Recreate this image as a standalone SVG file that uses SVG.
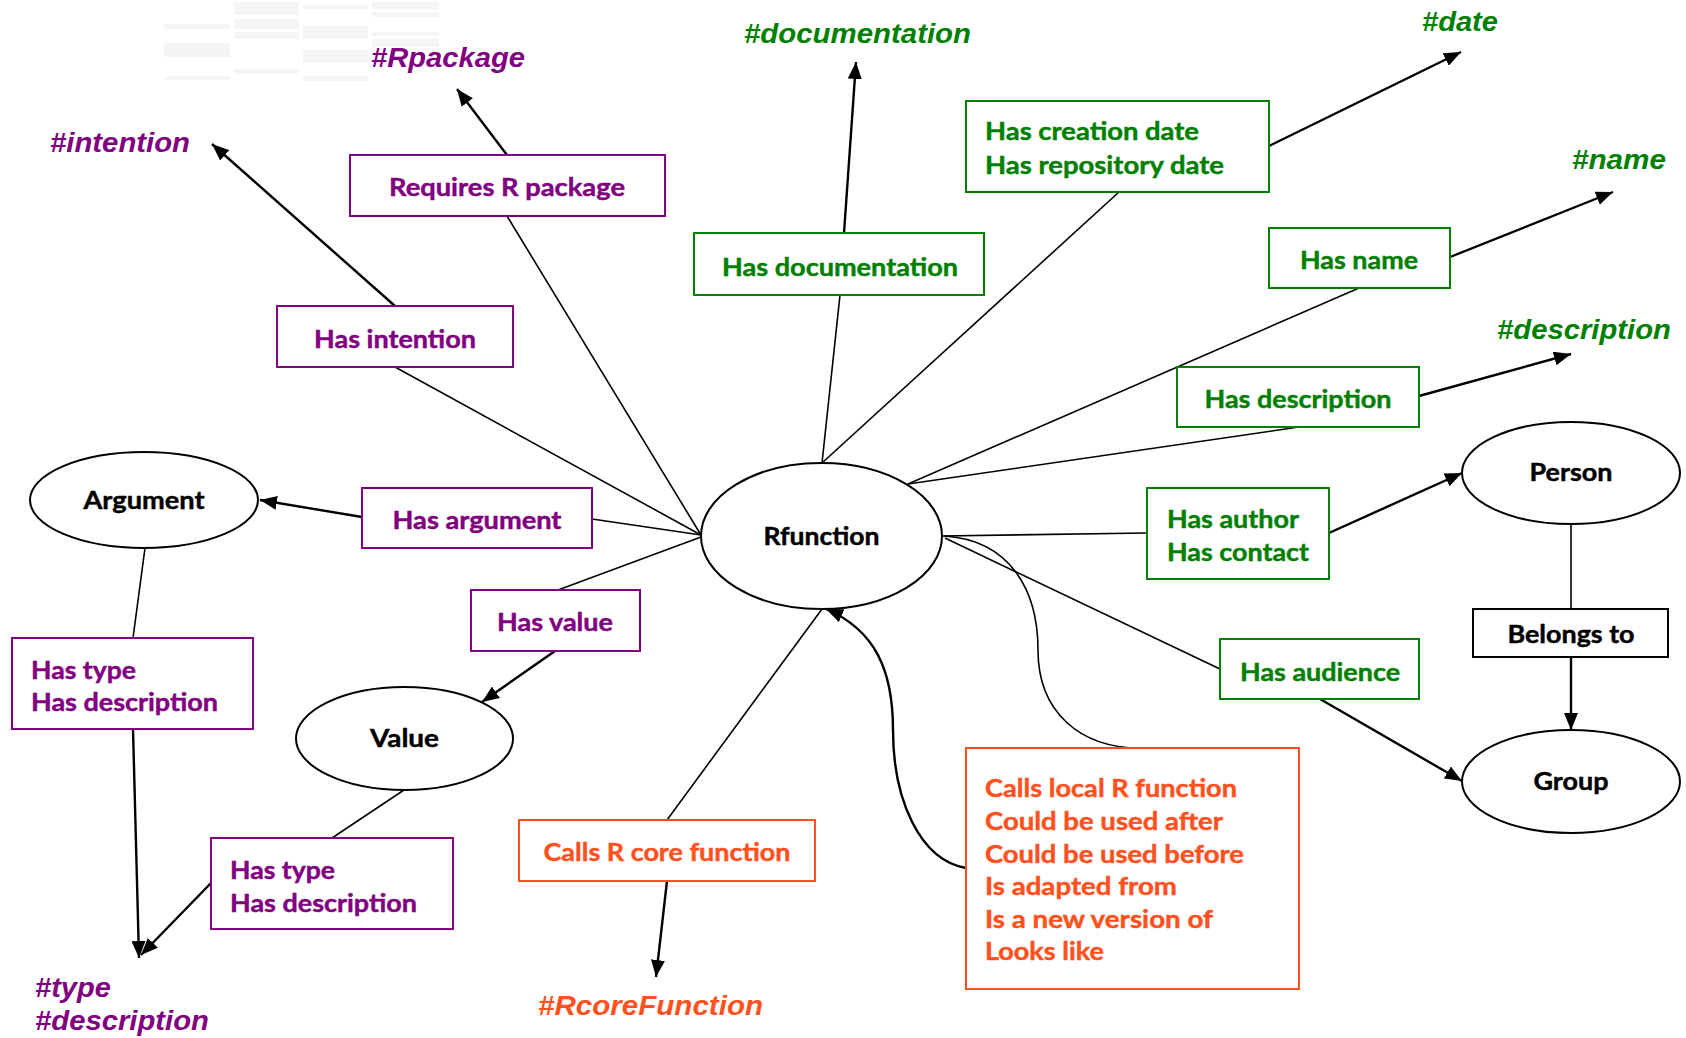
<svg xmlns="http://www.w3.org/2000/svg" width="1686" height="1038" viewBox="0 0 1686 1038">
  <style>
    .lbl { font-family: Lato, "Open Sans", "Liberation Sans", sans-serif; font-weight: bold; font-size: 25px; stroke-width: 0.45; }
    .mid { text-anchor: middle; }
    .tag { font-family: "Liberation Sans", Arial, sans-serif; font-weight: bold; font-style: italic; font-size: 28px; }
    .purple { fill: #800080; }
    .green { fill: #008000; }
    .orange { fill: #ff5020; }
    .black { fill: #000; }
    .lbl.purple { stroke: #800080; }
    .lbl.green { stroke: #008000; }
    .lbl.orange { stroke: #ff5020; }
    .lbl.black { stroke: #000; }
    .box-p { fill: #fff; stroke: #800080; stroke-width: 2; }
    .box-g { fill: #fff; stroke: #008000; stroke-width: 2; }
    .box-o { fill: #fff; stroke: #ff5020; stroke-width: 2; }
    .box-k { fill: #fff; stroke: #000; stroke-width: 2; }
    .ell { fill: #fff; stroke: #000; stroke-width: 2; }
    .edge { fill: none; stroke: #000; stroke-width: 1.6; }
    .arrow { fill: none; stroke: #000; stroke-width: 2.4; marker-end: url(#ah); }
    .ghost { fill: #f5f5f5; }
  </style>
  <defs>
    <marker id="ah" markerUnits="userSpaceOnUse" markerWidth="18" markerHeight="14" refX="17" refY="7" orient="auto">
      <path d="M0,0 L17,7 L0,14 z" fill="#000"/>
    </marker>
  </defs>

  <rect width="1686" height="1038" fill="#fff"/>

  <!-- faint table remnant, top left -->
  <g id="ghost">
    <rect class="ghost" x="164" y="24" width="66" height="5"/>
    <rect class="ghost" x="164" y="43" width="66" height="14"/>
    <rect class="ghost" x="164" y="76" width="66" height="4"/>
    <rect class="ghost" x="234" y="2" width="65" height="13"/>
    <rect class="ghost" x="234" y="19" width="65" height="10"/>
    <rect class="ghost" x="234" y="32" width="65" height="7"/>
    <rect class="ghost" x="234" y="69" width="65" height="5"/>
    <rect class="ghost" x="303" y="5" width="65" height="4"/>
    <rect class="ghost" x="303" y="26" width="65" height="13"/>
    <rect class="ghost" x="303" y="50" width="65" height="13"/>
    <rect class="ghost" x="303" y="76" width="65" height="5"/>
    <rect class="ghost" x="372" y="2" width="67" height="7"/>
    <rect class="ghost" x="372" y="12" width="67" height="5"/>
    <rect class="ghost" x="372" y="32" width="67" height="4"/>
    <rect class="ghost" x="372" y="39" width="67" height="8"/>
  </g>

  <!-- connectors -->
  <g id="connectors">
    <path class="edge" d="M701,535 L395,367"/>
    <path class="edge" d="M701,535 L507,216"/>
    <path class="edge" d="M592,519 L701,535"/>
    <path class="edge" d="M701,537 L558,590"/>
    <path class="edge" d="M145,548 L133,638"/>
    <path class="edge" d="M404,790 L332,838"/>
    <path class="edge" d="M822,463 L840,295"/>
    <path class="edge" d="M822,463 L1119,192"/>
    <path class="edge" d="M908,484 L1359,288"/>
    <path class="edge" d="M908,484 L1299,427"/>
    <path class="edge" d="M942,536 L1147,533"/>
    <path class="edge" d="M1571,524 L1571,609"/>
    <path class="edge" d="M945,538 L1220,669"/>
    <path class="edge" d="M822,609 L667,820"/>
    <path class="edge" d="M944,536 C1010,540 1038,590 1038,650 C1038,712 1080,748 1140,748"/>

    <path class="arrow" d="M395,306 L212,144"/>
    <path class="arrow" d="M507,155 L457,89"/>
    <path class="arrow" d="M844,233 L856,62"/>
    <path class="arrow" d="M1269,146 L1461,52"/>
    <path class="arrow" d="M1450,257 L1613,192"/>
    <path class="arrow" d="M1419,396 L1571,354"/>
    <path class="arrow" d="M1329,533 L1462,473"/>
    <path class="arrow" d="M1571,657 L1571,730"/>
    <path class="arrow" d="M1320,699 L1462,781"/>
    <path class="arrow" d="M667,881 L656,977"/>
    <path class="arrow" d="M362,517 L260,500"/>
    <path class="arrow" d="M555,651 L482,702"/>
    <path class="arrow" d="M133,729 L139,958"/>
    <path class="arrow" d="M211,883 L141,955"/>
    <path class="arrow" d="M966,868 C920,860 893,800 893,730 C893,670 875,630 826,609"/>
  </g>

  <!-- class nodes -->
  <g id="rfunction">
    <ellipse class="ell" cx="821.5" cy="536" rx="120.5" ry="73"/>
    <text class="lbl black mid" x="821.5" y="545" textLength="116" lengthAdjust="spacingAndGlyphs">Rfunction</text>
  </g>
  <g id="argument">
    <ellipse class="ell" cx="144" cy="500" rx="114" ry="48"/>
    <text class="lbl black mid" x="144" y="509" textLength="121" lengthAdjust="spacingAndGlyphs">Argument</text>
  </g>
  <g id="value">
    <ellipse class="ell" cx="404.5" cy="738.5" rx="108.5" ry="51.5"/>
    <text class="lbl black mid" x="404.5" y="747" textLength="69" lengthAdjust="spacingAndGlyphs">Value</text>
  </g>
  <g id="person">
    <ellipse class="ell" cx="1571" cy="473" rx="109" ry="51"/>
    <text class="lbl black mid" x="1571" y="481" textLength="83" lengthAdjust="spacingAndGlyphs">Person</text>
  </g>
  <g id="group">
    <ellipse class="ell" cx="1571" cy="781.5" rx="109" ry="51.5"/>
    <text class="lbl black mid" x="1571" y="790" textLength="75" lengthAdjust="spacingAndGlyphs">Group</text>
  </g>

  <!-- relation boxes -->
  <g id="requires-r-package">
    <rect class="box-p" x="350" y="155" width="315" height="61"/>
    <text class="lbl purple mid" x="507" y="196" textLength="236" lengthAdjust="spacingAndGlyphs">Requires R package</text>
  </g>
  <g id="has-intention">
    <rect class="box-p" x="277" y="306" width="236" height="61"/>
    <text class="lbl purple mid" x="395" y="348" textLength="162" lengthAdjust="spacingAndGlyphs">Has intention</text>
  </g>
  <g id="has-argument">
    <rect class="box-p" x="362" y="488" width="230" height="60"/>
    <text class="lbl purple mid" x="477" y="529" textLength="169" lengthAdjust="spacingAndGlyphs">Has argument</text>
  </g>
  <g id="has-value">
    <rect class="box-p" x="471" y="590" width="169" height="61"/>
    <text class="lbl purple mid" x="555" y="631" textLength="116" lengthAdjust="spacingAndGlyphs">Has value</text>
  </g>
  <g id="argument-type">
    <rect class="box-p" x="12" y="638" width="241" height="91"/>
    <text class="lbl purple" x="31" y="679" textLength="105" lengthAdjust="spacingAndGlyphs">Has type</text>
    <text class="lbl purple" x="31" y="711" textLength="187" lengthAdjust="spacingAndGlyphs">Has description</text>
  </g>
  <g id="value-type">
    <rect class="box-p" x="211" y="838" width="242" height="91"/>
    <text class="lbl purple" x="230" y="879" textLength="105" lengthAdjust="spacingAndGlyphs">Has type</text>
    <text class="lbl purple" x="230" y="912" textLength="187" lengthAdjust="spacingAndGlyphs">Has description</text>
  </g>
  <g id="has-documentation">
    <rect class="box-g" x="694" y="233" width="290" height="62"/>
    <text class="lbl green mid" x="840" y="276" textLength="236" lengthAdjust="spacingAndGlyphs">Has documentation</text>
  </g>
  <g id="has-dates">
    <rect class="box-g" x="966" y="101" width="303" height="91"/>
    <text class="lbl green" x="985" y="140" textLength="214" lengthAdjust="spacingAndGlyphs">Has creation date</text>
    <text class="lbl green" x="985" y="174" textLength="239" lengthAdjust="spacingAndGlyphs">Has repository date</text>
  </g>
  <g id="has-name">
    <rect class="box-g" x="1269" y="228" width="181" height="60"/>
    <text class="lbl green mid" x="1359" y="269" textLength="118" lengthAdjust="spacingAndGlyphs">Has name</text>
  </g>
  <g id="has-description">
    <rect class="box-g" x="1177" y="367" width="242" height="60"/>
    <text class="lbl green mid" x="1298" y="408" textLength="187" lengthAdjust="spacingAndGlyphs">Has description</text>
  </g>
  <g id="has-author">
    <rect class="box-g" x="1147" y="488" width="182" height="91"/>
    <text class="lbl green" x="1167" y="528" textLength="132" lengthAdjust="spacingAndGlyphs">Has author</text>
    <text class="lbl green" x="1167" y="561" textLength="142" lengthAdjust="spacingAndGlyphs">Has contact</text>
  </g>
  <g id="has-audience">
    <rect class="box-g" x="1220" y="639" width="199" height="60"/>
    <text class="lbl green mid" x="1320" y="681" textLength="160" lengthAdjust="spacingAndGlyphs">Has audience</text>
  </g>
  <g id="belongs-to">
    <rect class="box-k" x="1473" y="609" width="195" height="48"/>
    <text class="lbl black mid" x="1571" y="643" textLength="127" lengthAdjust="spacingAndGlyphs">Belongs to</text>
  </g>
  <g id="calls-r-core">
    <rect class="box-o" x="519" y="820" width="296" height="61"/>
    <text class="lbl orange mid" x="667" y="861" textLength="247" lengthAdjust="spacingAndGlyphs">Calls R core function</text>
  </g>
  <g id="function-relations">
    <rect class="box-o" x="966" y="748" width="333" height="241"/>
    <text class="lbl orange" x="985" y="797" textLength="252" lengthAdjust="spacingAndGlyphs">Calls local R function</text>
    <text class="lbl orange" x="985" y="830" textLength="238" lengthAdjust="spacingAndGlyphs">Could be used after</text>
    <text class="lbl orange" x="985" y="863" textLength="259" lengthAdjust="spacingAndGlyphs">Could be used before</text>
    <text class="lbl orange" x="985" y="895" textLength="192" lengthAdjust="spacingAndGlyphs">Is adapted from</text>
    <text class="lbl orange" x="985" y="928" textLength="228" lengthAdjust="spacingAndGlyphs">Is a new version of</text>
    <text class="lbl orange" x="985" y="960" textLength="119" lengthAdjust="spacingAndGlyphs">Looks like</text>
  </g>

  <!-- target vocabulary tags -->
  <g id="tag-rpackage"><text class="tag purple" x="371" y="67" textLength="154" lengthAdjust="spacingAndGlyphs">#Rpackage</text></g>
  <g id="tag-intention"><text class="tag purple" x="50" y="152" textLength="140" lengthAdjust="spacingAndGlyphs">#intention</text></g>
  <g id="tag-documentation"><text class="tag green" x="744" y="43" textLength="227" lengthAdjust="spacingAndGlyphs">#documentation</text></g>
  <g id="tag-date"><text class="tag green" x="1422" y="31" textLength="76" lengthAdjust="spacingAndGlyphs">#date</text></g>
  <g id="tag-name"><text class="tag green" x="1572" y="169" textLength="94" lengthAdjust="spacingAndGlyphs">#name</text></g>
  <g id="tag-description"><text class="tag green" x="1497" y="339" textLength="174" lengthAdjust="spacingAndGlyphs">#description</text></g>
  <g id="tag-type-description">
    <text class="tag purple" x="35" y="997" textLength="76" lengthAdjust="spacingAndGlyphs">#type</text>
    <text class="tag purple" x="35" y="1030" textLength="174" lengthAdjust="spacingAndGlyphs">#description</text>
  </g>
  <g id="tag-rcorefunction"><text class="tag orange" x="538" y="1015" textLength="225" lengthAdjust="spacingAndGlyphs">#RcoreFunction</text></g>
</svg>
